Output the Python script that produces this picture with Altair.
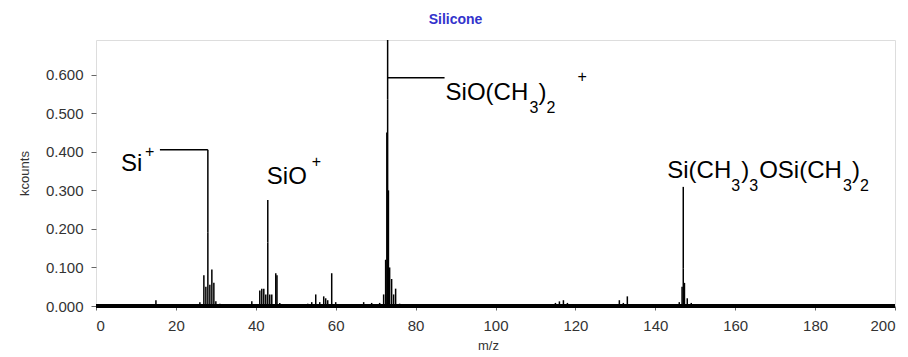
import altair as alt
import pandas as pd

# ---- spectrum (m/z, kcounts) ----
peak_mz = [15, 26, 27, 27.5, 28, 28.5, 29, 29.5, 30, 31,
           39, 40, 41, 41.5, 42, 42.5, 43, 43.5, 44, 45, 45.3, 46, 47,
           50, 53, 54, 55, 56, 57, 57.5, 58, 59, 60,
           67, 69, 71, 72, 72.5, 72.8, 73, 73.2, 73.5, 74, 74.5, 75, 76,
           85, 87, 103, 114, 115, 116, 117, 118,
           131, 132, 133, 134, 145, 146, 146.7, 147, 147.3, 148, 149]
peak_k = [0.015, 0.010, 0.080, 0.050, 0.190, 0.055, 0.095, 0.060, 0.012, 0.006,
          0.012, 0.005, 0.040, 0.045, 0.045, 0.030, 0.165, 0.030, 0.030, 0.085, 0.080, 0.008, 0.004,
          0.003, 0.006, 0.010, 0.030, 0.010, 0.025, 0.020, 0.015, 0.085, 0.010,
          0.010, 0.008, 0.008, 0.030, 0.120, 0.450, 0.535, 0.300, 0.100, 0.070, 0.030, 0.045, 0.006,
          0.005, 0.004, 0.005, 0.004, 0.008, 0.012, 0.015, 0.008,
          0.015, 0.008, 0.025, 0.005, 0.004, 0.010, 0.050, 0.098, 0.060, 0.020, 0.008]

# ---- annotation leader segments ----
lead_x = [16, 28, 43, 73, 73, 147]
lead_x2 = [28, 28, 43, 73, 87.25, 147]
lead_y = [0.405, 0.405, 0.275, 0.69, 0.592, 0.309]
lead_y2 = [0.405, 0.19, 0.165, 0.535, 0.592, 0.098]

# ---- annotation text pieces (main text, sub- and superscripts) ----
lab_text = ["Si", "+", "SiO", "+",
            "SiO(CH", "3", ")", "2", "+",
            "Si(CH", "3", ")", "3", "OSi(CH", "3", ")", "2"]
lab_x = [6.25, 12.25, 42.75, 54.0,
         87.5, 108.5, 110.75, 112.75, 120.5,
         143.0, 159.0, 161.5, 163.5, 166.0, 187.0, 189.25, 191.25]
lab_y = [0.351, 0.387, 0.317, 0.361,
         0.535, 0.501, 0.535, 0.501, 0.582,
         0.332, 0.298, 0.332, 0.298, 0.332, 0.298, 0.332, 0.298]
lab_size = [24, 16, 24, 16,
            24, 16, 24, 16, 16,
            24, 16, 24, 16, 24, 16, 24, 16]

x_ticks = list(range(0, 201, 5))
y_ticks = [0.0, 0.1, 0.2, 0.3, 0.4, 0.5, 0.6]

spec = pd.DataFrame({"mz": peak_mz, "k": peak_k})
leads = pd.DataFrame({"x": lead_x, "x2": lead_x2, "y": lead_y, "y2": lead_y2})
labels = pd.DataFrame({"t": lab_text, "x": lab_x, "y": lab_y, "s": lab_size})

FONT = "Liberation Sans"

xs = alt.Scale(domain=[0, 200], nice=False, zero=False)
ys = alt.Scale(domain=[0, 0.69], nice=False, zero=True)

x_axis = alt.Axis(values=x_ticks, labelExpr="datum.value % 20 == 0 ? datum.label : ''",
                  title="m/z", grid=False, tickSize=4, labelPadding=8,
                  labelFontSize=15, titleFontSize=13, titleFontWeight="normal",
                  labelColor="#333", titleColor="#333", tickColor="#666",
                  domain=False, titlePadding=6, titleX=392)
y_axis = alt.Axis(values=y_ticks, format=".3f", title="kcounts", grid=False,
                  tickSize=5, labelPadding=8, labelFontSize=15, titleFontSize=13,
                  titleFontWeight="normal", labelColor="#333", titleColor="#333",
                  tickColor="#666", domain=False, titlePadding=14)

sticks = alt.Chart(spec).mark_rule(color="black", strokeWidth=1.5).encode(
    x=alt.X("mz:Q", scale=xs, axis=x_axis),
    y=alt.Y("k:Q", scale=ys, axis=y_axis),
    y2=alt.datum(0),
)

baseline = alt.Chart(spec).mark_rule(color="black", strokeWidth=2.5).encode(
    x=alt.datum(0), x2=alt.datum(200), y=alt.datum(0)
)

leaders = alt.Chart(leads).mark_rule(color="black", strokeWidth=1.5).encode(
    x="x:Q", x2="x2", y="y:Q", y2="y2"
)

texts = alt.Chart(labels).mark_text(align="left", baseline="alphabetic", font=FONT,
                                    color="black").encode(
    x="x:Q", y="y:Q", text="t:N", size=alt.Size("s:Q", scale=None, legend=None)
)

chart = alt.layer(sticks, baseline, leaders, texts).properties(
    width=799, height=266,
    autosize=alt.AutoSizeParams(type="none"),
    padding={"left": 88, "top": 32, "right": 5, "bottom": 51},
    title=alt.Title("Silicone", fontSize=14, fontWeight="bold", color="#3333cc",
                    font=FONT, anchor="middle", dx=-40, offset=12),
).configure_view(stroke="black", strokeWidth=1.5).configure(
    font=FONT, background="white"
).configure_axis(labelFont=FONT, titleFont=FONT)

chart.save("out.html", embed_options={"renderer": "svg", "actions": False})
